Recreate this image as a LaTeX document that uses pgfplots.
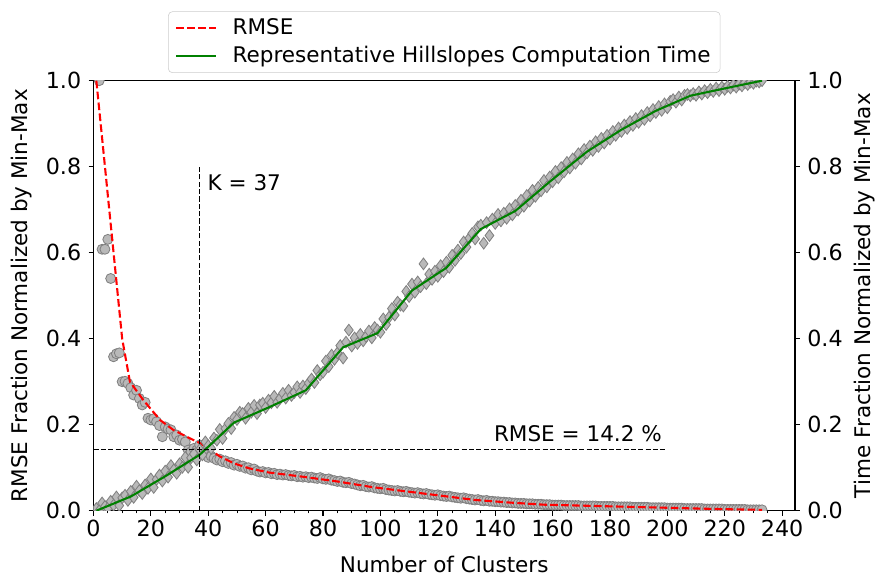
\documentclass[border=0pt]{standalone}
\usepackage{pgfplots}
\usepackage{pgfplotstable}
\pgfplotsset{compat=1.18}
\usepackage{fontspec}
\setmainfont{DejaVu Sans}
\definecolor{mkfill}{RGB}{185,185,185}
\definecolor{mkedge}{RGB}{128,128,128}
\definecolor{mplgreen}{RGB}{0,128,0}
\definecolor{legframe}{RGB}{204,204,204}

\pgfplotstableread[row sep=\\]{x y\\
2 1.000\\ 3 0.608\\ 4 0.608\\ 5 0.631\\ 6 0.540\\ 7 0.358\\ 8 0.365\\ 9 0.367\\ 10 0.300\\
11 0.301\\ 12 0.296\\ 13 0.286\\ 14 0.269\\ 15 0.280\\ 16 0.261\\ 17 0.246\\ 18 0.252\\ 19 0.215\\ 20 0.211\\
21 0.214\\ 22 0.207\\ 23 0.198\\ 24 0.172\\ 25 0.195\\ 26 0.190\\ 27 0.188\\ 28 0.172\\ 29 0.176\\ 30 0.164\\
31 0.166\\ 32 0.160\\ 33 0.141\\ 34 0.137\\ 35 0.145\\ 36 0.141\\ 37 0.153\\ 38 0.135\\ 39 0.130\\ 40 0.124\\
41 0.127\\ 42 0.122\\ 43 0.118\\ 44 0.120\\ 45 0.114\\ 46 0.116\\ 47 0.110\\ 48 0.112\\ 49 0.106\\ 50 0.108\\
51 0.103\\ 52 0.104\\ 53 0.099\\ 54 0.100\\ 55 0.095\\ 56 0.097\\ 57 0.092\\ 58 0.090\\ 59 0.091\\ 60 0.088\\
61 0.089\\ 62 0.086\\ 63 0.087\\ 64 0.084\\ 65 0.085\\ 66 0.083\\ 67 0.084\\ 68 0.082\\ 69 0.081\\ 70 0.082\\
71 0.079\\ 72 0.080\\ 73 0.078\\ 74 0.079\\ 75 0.077\\ 76 0.078\\ 77 0.076\\ 78 0.075\\ 79 0.077\\ 80 0.074\\
81 0.073\\ 82 0.074\\ 83 0.071\\ 84 0.070\\ 85 0.068\\ 86 0.069\\ 87 0.066\\ 88 0.065\\ 89 0.066\\ 90 0.063\\
91 0.062\\ 92 0.060\\ 93 0.058\\ 94 0.059\\ 95 0.056\\ 96 0.055\\ 97 0.056\\ 98 0.053\\ 99 0.052\\ 100 0.051\\
101 0.052\\ 102 0.049\\ 103 0.048\\ 104 0.047\\ 105 0.046\\ 106 0.047\\ 107 0.045\\ 108 0.044\\ 109 0.045\\ 110 0.043\\
111 0.042\\ 112 0.041\\ 113 0.042\\ 114 0.040\\ 115 0.039\\ 116 0.040\\ 117 0.038\\ 118 0.037\\ 119 0.036\\ 120 0.037\\
121 0.035\\ 122 0.034\\ 123 0.033\\ 124 0.034\\ 125 0.032\\ 126 0.031\\ 127 0.030\\ 128 0.029\\ 129 0.030\\ 130 0.028\\
131 0.027\\ 132 0.026\\ 133 0.025\\ 134 0.026\\ 135 0.024\\ 136 0.023\\ 137 0.024\\ 138 0.022\\ 139 0.022\\ 140 0.021\\
141 0.021\\ 142 0.020\\ 143 0.020\\ 144 0.019\\ 145 0.019\\ 146 0.018\\ 147 0.018\\ 148 0.017\\ 149 0.017\\ 150 0.017\\
151 0.016\\ 152 0.016\\ 153 0.016\\ 154 0.015\\ 155 0.015\\ 156 0.015\\ 157 0.014\\ 158 0.014\\ 159 0.014\\ 160 0.013\\
161 0.013\\ 162 0.013\\ 163 0.013\\ 164 0.012\\ 165 0.012\\ 166 0.012\\ 167 0.012\\ 168 0.012\\ 169 0.012\\ 170 0.011\\
171 0.011\\ 172 0.011\\ 173 0.011\\ 174 0.011\\ 175 0.011\\ 176 0.010\\ 177 0.010\\ 178 0.010\\ 179 0.010\\ 180 0.010\\
181 0.010\\ 182 0.009\\ 183 0.009\\ 184 0.009\\ 185 0.009\\ 186 0.009\\ 187 0.009\\ 188 0.008\\ 189 0.008\\ 190 0.008\\
191 0.008\\ 192 0.008\\ 193 0.008\\ 194 0.007\\ 195 0.007\\ 196 0.007\\ 197 0.007\\ 198 0.007\\ 199 0.007\\ 200 0.006\\
201 0.006\\ 202 0.006\\ 203 0.006\\ 204 0.006\\ 205 0.006\\ 206 0.005\\ 207 0.005\\ 208 0.005\\ 209 0.005\\ 210 0.005\\
211 0.005\\ 212 0.005\\ 213 0.004\\ 214 0.004\\ 215 0.004\\ 216 0.004\\ 217 0.004\\ 218 0.004\\ 219 0.004\\ 220 0.003\\
221 0.003\\ 222 0.003\\ 223 0.003\\ 224 0.003\\ 225 0.003\\ 226 0.003\\ 227 0.003\\ 228 0.002\\ 229 0.002\\ 230 0.002\\
231 0.002\\ 232 0.002\\ 233 0.002\\
}\rmsepts

\pgfplotstableread[row sep=\\]{x y\\
1 1.000\\ 4 0.800\\ 7 0.600\\ 10 0.400\\ 12.7 0.300\\ 17.4 0.257\\ 23.2 0.211\\ 27.8 0.188\\ 33.7 0.168\\ 37.2 0.157\\
44.1 0.126\\ 49 0.110\\ 54 0.099\\ 61 0.089\\ 73 0.079\\ 85 0.068\\ 97 0.055\\ 109 0.045\\ 121 0.035\\ 133 0.025\\
145 0.019\\ 157 0.014\\ 169 0.012\\ 181 0.010\\ 193 0.008\\ 205 0.006\\ 217 0.004\\ 233 0.002\\
}\rmseline

\pgfplotstableread[row sep=\\]{x y\\
1 0.005\\ 2 0.000\\ 3 0.018\\ 4 0.010\\ 5 0.006\\ 6 0.022\\ 7 0.013\\ 8 0.032\\ 9 0.012\\ 10 0.030\\
11 0.036\\ 12 0.024\\ 13 0.045\\ 14 0.031\\ 15 0.057\\ 16 0.047\\ 17 0.040\\ 18 0.060\\ 19 0.052\\ 20 0.074\\
21 0.054\\ 22 0.073\\ 23 0.083\\ 24 0.069\\ 25 0.092\\ 26 0.078\\ 27 0.105\\ 28 0.095\\ 29 0.087\\ 30 0.109\\
31 0.101\\ 32 0.124\\ 33 0.101\\ 34 0.123\\ 35 0.132\\ 36 0.118\\ 37 0.142\\ 38 0.130\\ 39 0.160\\ 40 0.151\\
41 0.145\\ 42 0.169\\ 43 0.164\\ 44 0.189\\ 45 0.168\\ 46 0.191\\ 47 0.203\\ 48 0.191\\ 49 0.217\\ 50 0.212\\
51 0.229\\ 52 0.226\\ 53 0.215\\ 54 0.238\\ 55 0.229\\ 56 0.245\\ 57 0.226\\ 58 0.246\\ 59 0.250\\ 60 0.240\\
61 0.257\\ 62 0.251\\ 63 0.266\\ 64 0.252\\ 65 0.261\\ 66 0.273\\ 67 0.262\\ 68 0.280\\ 69 0.268\\ 70 0.275\\
71 0.288\\ 72 0.275\\ 73 0.290\\ 74 0.284\\ 75 0.297\\ 76 0.306\\ 77 0.298\\ 78 0.326\\ 79 0.316\\ 80 0.322\\
81 0.348\\ 82 0.335\\ 83 0.362\\ 84 0.352\\ 85 0.367\\ 86 0.384\\ 87 0.355\\ 88 0.392\\ 89 0.420\\ 90 0.383\\
91 0.402\\ 92 0.389\\ 93 0.410\\ 94 0.395\\ 95 0.405\\ 96 0.418\\ 97 0.402\\ 98 0.426\\ 99 0.420\\ 100 0.415\\
101 0.446\\ 102 0.433\\ 103 0.450\\ 104 0.470\\ 105 0.455\\ 106 0.485\\ 107 0.478\\ 108 0.476\\ 109 0.510\\ 110 0.498\\
111 0.527\\ 112 0.508\\ 113 0.532\\ 114 0.521\\ 115 0.574\\ 116 0.528\\ 117 0.550\\ 118 0.538\\ 119 0.557\\ 120 0.545\\
121 0.570\\ 122 0.556\\ 123 0.578\\ 124 0.566\\ 125 0.594\\ 126 0.582\\ 127 0.606\\ 128 0.598\\ 129 0.625\\ 130 0.613\\
131 0.634\\ 132 0.645\\ 133 0.632\\ 134 0.660\\ 135 0.664\\ 136 0.622\\ 137 0.670\\ 138 0.640\\ 139 0.678\\ 140 0.668\\
141 0.689\\ 142 0.674\\ 143 0.692\\ 144 0.680\\ 145 0.702\\ 146 0.688\\ 147 0.710\\ 148 0.699\\ 149 0.722\\ 150 0.708\\
151 0.733\\ 152 0.720\\ 153 0.745\\ 154 0.731\\ 155 0.752\\ 156 0.744\\ 157 0.768\\ 158 0.753\\ 159 0.776\\ 160 0.765\\
161 0.789\\ 162 0.774\\ 163 0.798\\ 164 0.788\\ 165 0.810\\ 166 0.797\\ 167 0.818\\ 168 0.808\\ 169 0.830\\ 170 0.818\\
171 0.840\\ 172 0.832\\ 173 0.848\\ 174 0.838\\ 175 0.858\\ 176 0.847\\ 177 0.866\\ 178 0.855\\ 179 0.873\\ 180 0.864\\
181 0.882\\ 182 0.873\\ 183 0.890\\ 184 0.882\\ 185 0.897\\ 186 0.889\\ 187 0.905\\ 188 0.896\\ 189 0.912\\ 190 0.903\\
191 0.919\\ 192 0.910\\ 193 0.926\\ 194 0.918\\ 195 0.933\\ 196 0.926\\ 197 0.940\\ 198 0.931\\ 199 0.946\\ 200 0.937\\
201 0.952\\ 202 0.956\\ 203 0.950\\ 204 0.962\\ 205 0.955\\ 206 0.966\\ 207 0.968\\ 208 0.965\\ 209 0.970\\ 210 0.966\\
211 0.974\\ 212 0.969\\ 213 0.977\\ 214 0.972\\ 215 0.980\\ 216 0.975\\ 217 0.983\\ 218 0.977\\ 219 0.985\\ 220 0.980\\
221 0.987\\ 222 0.983\\ 223 0.990\\ 224 0.985\\ 225 0.992\\ 226 0.988\\ 227 0.995\\ 228 0.991\\ 229 0.997\\ 230 0.994\\
231 0.999\\ 232 0.997\\ 233 1.000\\
}\timepts

\pgfplotstableread[row sep=\\]{x y\\
1 0.000\\ 13 0.033\\ 25 0.080\\ 37 0.130\\ 49 0.205\\ 61 0.240\\ 74 0.280\\ 87 0.380\\ 99 0.413\\ 111 0.512\\
123 0.565\\ 135 0.655\\ 147 0.697\\ 159 0.765\\ 172 0.835\\ 184 0.886\\ 196 0.930\\ 208 0.965\\ 220 0.982\\ 233 1.000\\
}\timeline

\begin{document}
\fontsize{15.5}{18.5}\selectfont
\begin{tikzpicture}
\path[use as bounding box] (-67.3pt,-49.2pt) rectangle (563.4pt,367.7pt);
\pgfplotsset{
  common/.style={
    scale only axis, width=505.1pt, height=309.6pt,
    at={(0,0)}, anchor=south west,
    xmin=0, xmax=244.5, ymin=0, ymax=1,
    axis line style={line width=0.8pt, black},
    tick style={black, line width=0.8pt},
    major tick length=3.5pt, minor tick length=2pt,
    tick align=outside,
    /pgf/number format/assume math mode=true,
    tick label style={font=\fontsize{16}{19}\selectfont},
    label style={font=\fontsize{16}{19}\selectfont},
    ytick={0,0.2,0.4,0.6,0.8,1.0},
    yticklabel style={/pgf/number format/.cd, fixed, fixed zerofill, precision=1},
    clip marker paths=true,
  }
}
\begin{axis}[common,
  xtick={0,20,...,240}, minor x tick num=3,
  xtick pos=bottom, ytick pos=left,
  xticklabel style={yshift=2pt},
  every minor tick/.style={line width=0.6pt},
  every axis x label/.style={at={(axis description cs:0.5,-0.126)}, anchor=center},
  every axis y label/.style={at={(axis description cs:-0.102,0.5)}, anchor=center, rotate=90},
  xlabel={Number of Clusters},
  ylabel={RMSE Fraction Normalized by Min-Max},
]
\addplot[only marks, mark=*, mark size=3.6pt, mark options={fill=mkfill, draw=mkedge, line width=0.6pt}] table[x=x,y=y] {\rmsepts};
\addplot[red, line width=1.5pt, dash pattern=on 5.5pt off 2.4pt] table[x=x,y=y] {\rmseline};
\end{axis}
\begin{axis}[common,
  axis x line=none, axis y line*=right,
  ytick pos=right,
  every axis y label/.style={at={(axis description cs:1.0998,0.5)}, anchor=center, rotate=90},
  ylabel={Time Fraction Normalized by Min-Max},
  legend style={at={(axis description cs:0.5,1.018)}, anchor=south,
    font=\fontsize{15.5}{18.5}\selectfont, draw=legframe, rounded corners=3pt,
    inner xsep=5pt, inner ysep=3pt, row sep=2pt, cells={anchor=west},
    /tikz/every odd column/.append style={column sep=9pt}},
  legend cell align=left,
  legend image code/.code={\draw[#1] (0pt,0pt) -- (28.8pt,0pt);},
]
\addlegendimage{red, line width=1.5pt, dash pattern=on 5.5pt off 2.4pt}
\addlegendentry{RMSE}
\addplot[only marks, mark=diamond*, mark size=4.2pt, mark options={fill=mkfill, draw=mkedge, line width=0.6pt}, forget plot] table[x=x,y=y] {\timepts};
\addplot[mplgreen, line width=1.5pt] table[x=x,y=y] {\timeline};
\addlegendentry{Representative Hillslopes Computation Time}
\addplot[black, line width=0.8pt, dash pattern=on 3.7pt off 1.6pt, forget plot] coordinates {(37,0) (37,0.8)};
\addplot[black, line width=0.8pt, dash pattern=on 3.7pt off 1.6pt, forget plot] coordinates {(0,0.142) (200,0.142)};
\node[anchor=base west, inner sep=0pt] at (axis cs:39.7,0.744) {K = 37};
\node[anchor=base west, inner sep=0pt] at (axis cs:139.5,0.162) {RMSE = 14.2 \%};
\end{axis}
\end{tikzpicture}
\end{document}
